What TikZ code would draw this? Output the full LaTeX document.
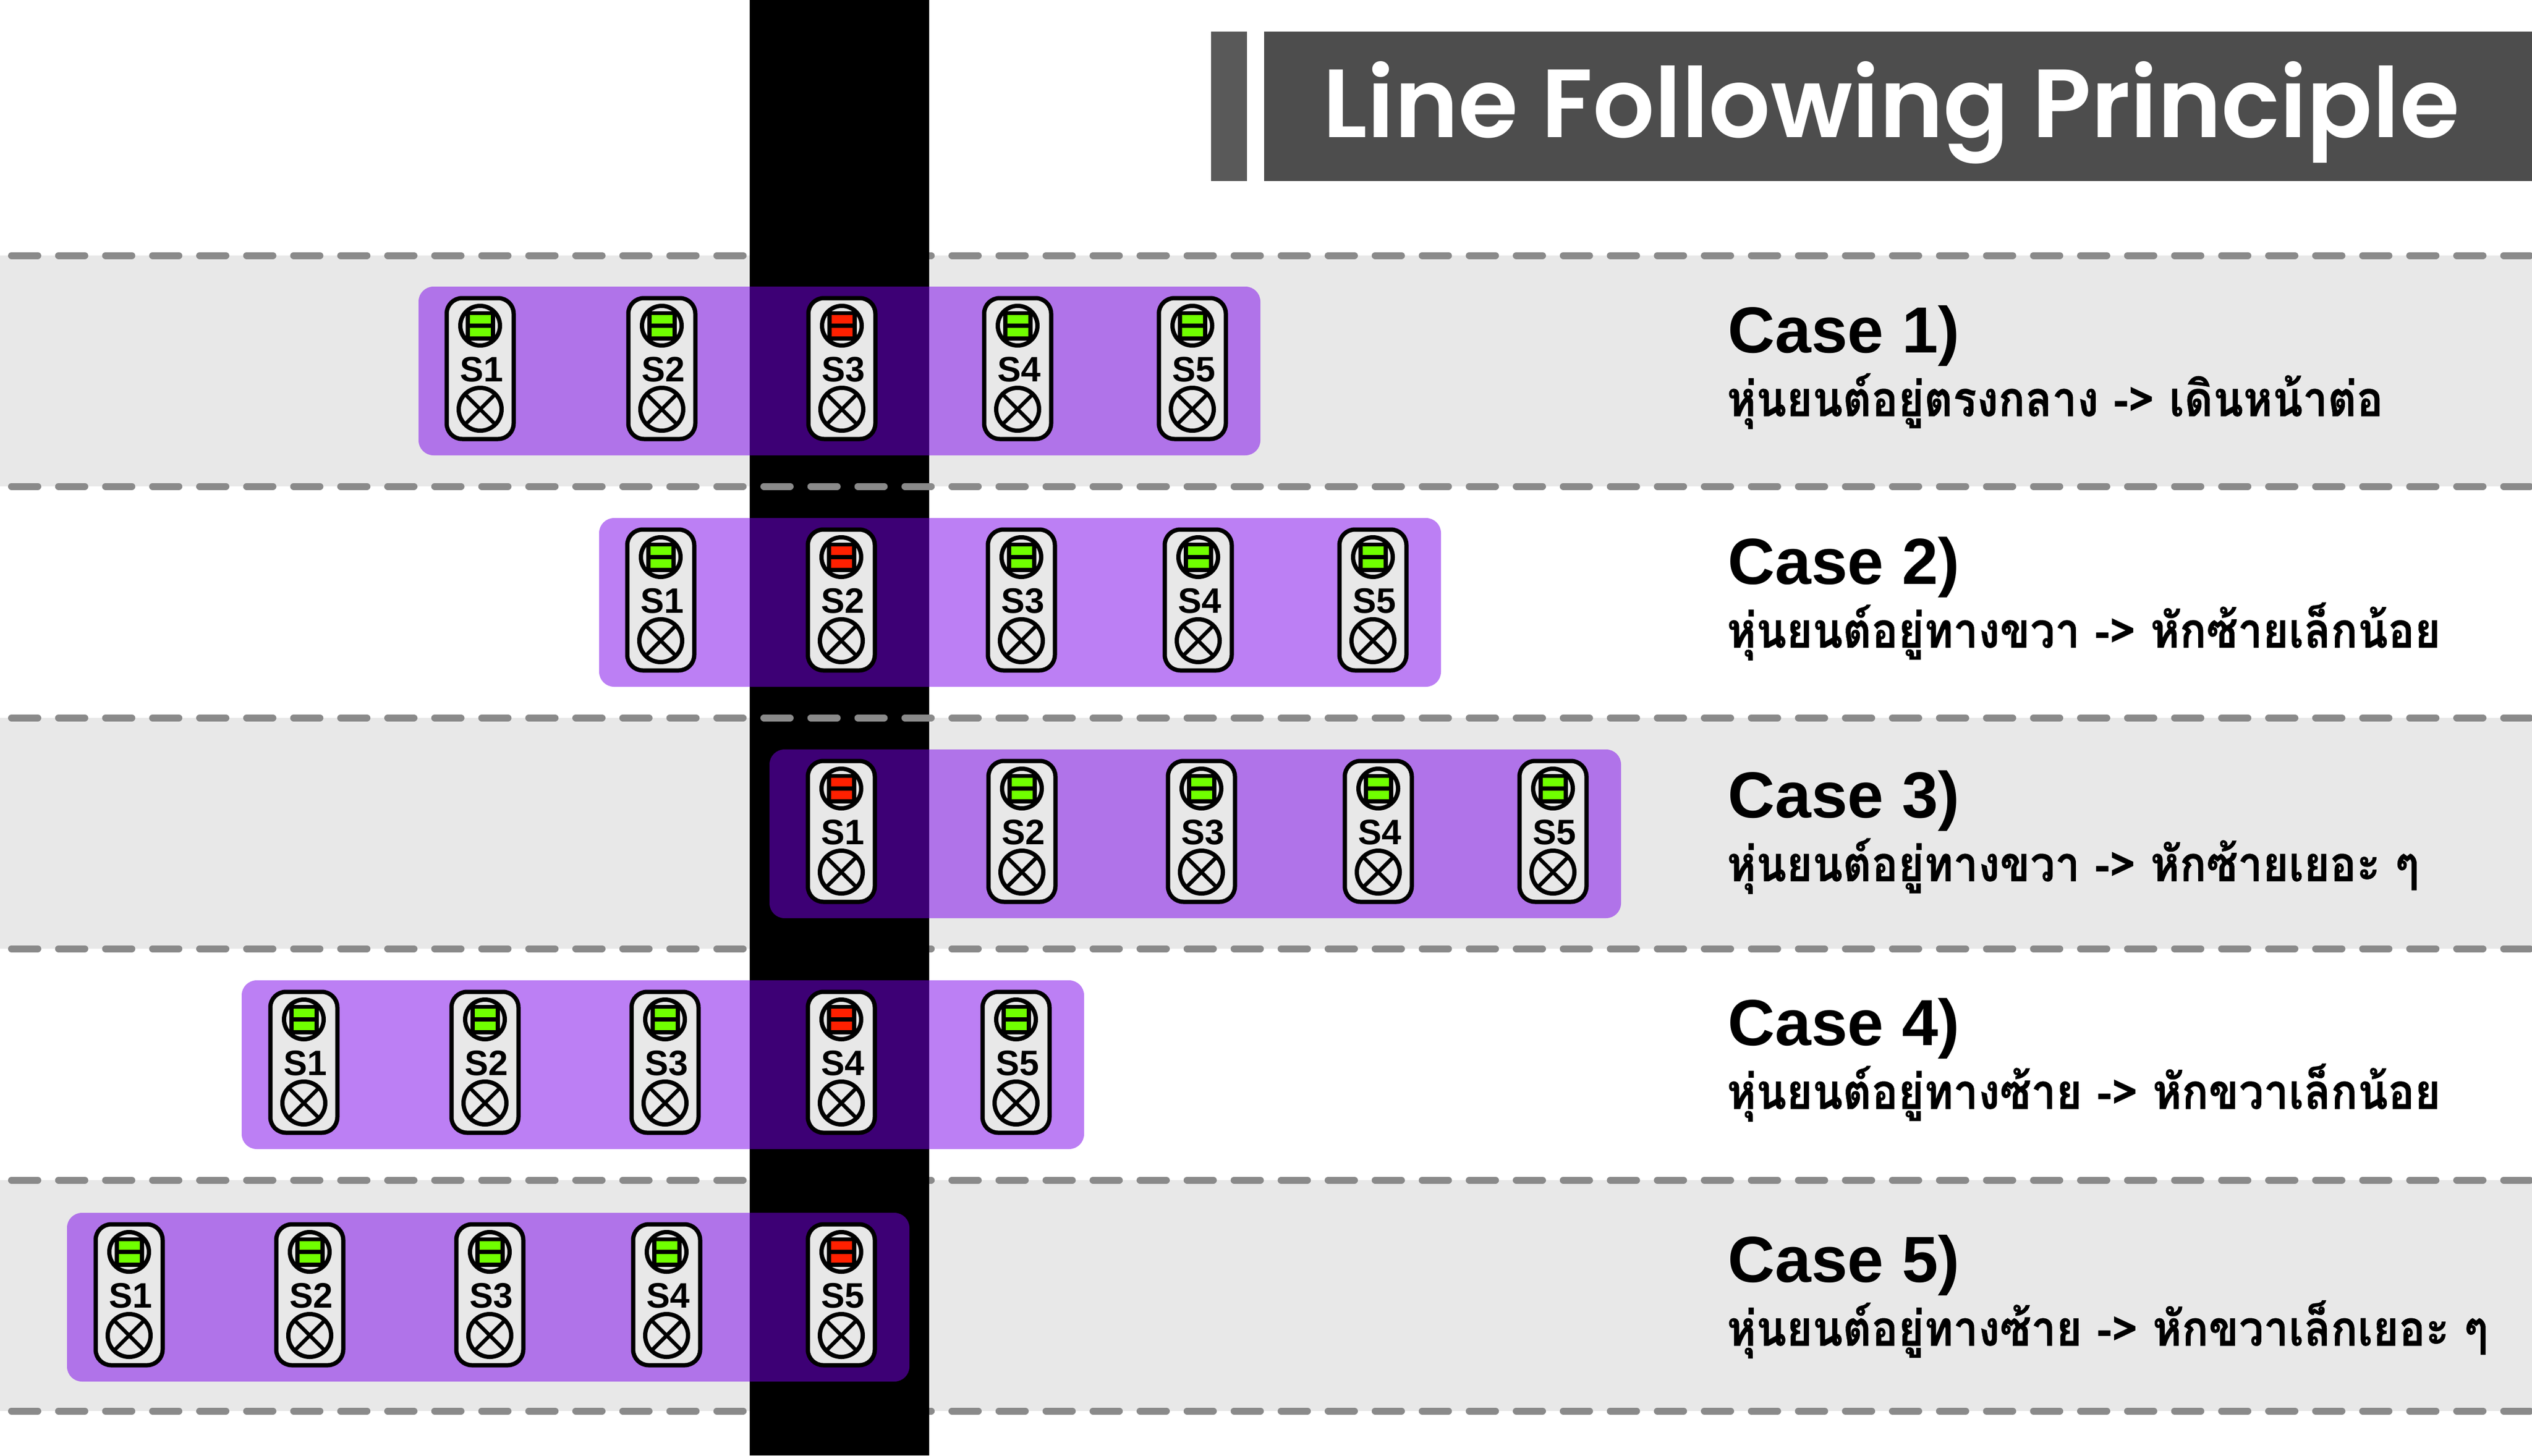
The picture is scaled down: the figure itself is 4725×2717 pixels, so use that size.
\documentclass[tikz,border=0pt]{standalone}
\usepackage{fontspec}
\setmainfont{Liberation Sans}
\newfontfamily\titlefont{Poppins SemiBold}
\newfontfamily\thaifont[Script=Thai,FakeStretch=0.905,FakeBold=0.5]{Loma}
\usetikzlibrary{positioning}

\definecolor{bandgray}{HTML}{E8E8E8}
\definecolor{dashgray}{HTML}{8A8A8A}
\definecolor{titlegray}{HTML}{4D4D4D}
\definecolor{sidegray}{HTML}{595959}
\definecolor{carpurple}{HTML}{7A00EA}
\definecolor{ledgreen}{HTML}{70FF00}
\definecolor{ledred}{HTML}{FF2000}

\begin{document}
\begin{tikzpicture}[x=0.1mm, y=-0.1mm,
    rowline/.style={dashgray, line width=1.3mm, line cap=round, dash pattern=on 4.9mm off 3.875mm, dash phase=6.625mm},
    carbody/.style={fill=carpurple, fill opacity=0.5, rounded corners=2.8mm},
    sensorbox/.style={draw, line width=0.8mm, fill=bandgray, rounded corners=2.9mm, minimum width=12.5mm, minimum height=26.3mm, inner sep=0pt, outer sep=0pt},
    led/.style={circle, draw, line width=0.8mm, fill=bandgray, minimum size=7.4mm, inner sep=0pt, outer sep=0pt},
    ledframe/.style={fill=black, minimum width=5.5mm, minimum height=5.5mm, inner sep=0pt},
    ledbar/.style={minimum width=3.9mm, minimum height=1.6mm, inner sep=0pt},
    bulb/.style={circle, draw, line width=0.8mm, minimum size=8mm, inner sep=0pt, outer sep=0pt},
    sensorlabel/.style={anchor=base, inner sep=0pt, font=\fontsize{18.8}{20}\selectfont\bfseries},
    casetitle/.style={anchor=base west, inner sep=0pt, font=\fontsize{34.6}{36}\selectfont\bfseries},
    casetext/.style={anchor=base west, inner sep=0pt, font=\thaifont\fontsize{26}{28}\selectfont\bfseries}
]
\useasboundingbox (0,0) rectangle (4725,2717);

% Gray bands behind cases 1, 3 and 5
\fill[bandgray] (0,477) rectangle (4725,908);
\fill[bandgray] (0,1340) rectangle (4725,1771);
\fill[bandgray] (0,2203) rectangle (4725,2634);

% Dashed row lines under the track
\foreach \y in {477,1771,2203,2634} {
    \draw[rowline] (0,\y) -- (4725,\y);
}

% Black track
\fill[black] (1399,0) rectangle (1734,2717);

% These two lie over the track
\foreach \y in {908,1340} {
    \draw[rowline] (0,\y) -- (4725,\y);
}

% Title
\fill[sidegray] (2260,59) rectangle (2327,338);
\fill[titlegray] (2359,59) rectangle (4725,338);
\node[anchor=base west, inner sep=0pt, text=white, font=\titlefont\fontsize{51.5}{56}\selectfont] (title) at (2468,257) {Line Following Principle};

% Robot bar with its five sensors, one row per case
\foreach \row/\ymid/\xleft/\xright/\hit/\xlist in {
    1/688/781/2352/3/{896,1235,1571,1899,2225},
    2/1120/1118/2689/2/{1233,1570,1906,2236,2562},
    3/1552/1436/3025/1/{1570,1907,2242,2572,2898},
    4/1983/451/2023/4/{567,905,1241,1570,1896},
    5/2417/125/1697/5/{241,578,914,1244,1570}} {
    \fill[carbody] (\xleft,\ymid-153) rectangle (\xright,\ymid+162);
    \foreach \x [count=\n] in \xlist {
        \ifnum\n=\hit \def\ledcolor{ledred}\else \def\ledcolor{ledgreen}\fi
        \node[sensorbox] (box\row\n) at (\x,\ymid) {};
        \node[led] (led\row\n) at (\x,\ymid-80) {};
        \node[ledframe] (frame\row\n) at (\x,\ymid-80) {};
        \node[ledbar, fill=\ledcolor] (bara\row\n) at (\x,\ymid-92) {};
        \node[ledbar, fill=\ledcolor] (barb\row\n) at (\x,\ymid-68) {};
        \node[sensorlabel] (name\row\n) at (\x+3,\ymid+24) {S\n};
        \node[bulb] (bulb\row\n) at (\x,\ymid+76) {};
        \draw[line width=0.7mm] (bulb\row\n.45) -- (bulb\row\n.225);
        \draw[line width=0.7mm] (bulb\row\n.135) -- (bulb\row\n.315);
    }
}

% Case texts
\node[casetitle] (case1) at (3224,658) {Case 1)};
\node[casetext] (text1) at (3222,777) {หุ่นยนต์อยู่ตรงกลาง -> เดินหน้าต่อ};
\node[casetitle] (case2) at (3224,1090) {Case 2)};
\node[casetext] (text2) at (3222,1209) {หุ่นยนต์อยู่ทางขวา -> หักซ้ายเล็กน้อย};
\node[casetitle] (case3) at (3224,1526) {Case 3)};
\node[casetext] (text3) at (3222,1645) {หุ่นยนต์อยู่ทางขวา -> หักซ้ายเยอะ ๆ};
\node[casetitle] (case4) at (3224,1951) {Case 4)};
\node[casetext] (text4) at (3222,2070) {หุ่นยนต์อยู่ทางซ้าย -> หักขวาเล็กน้อย};
\node[casetitle] (case5) at (3224,2393) {Case 5)};
\node[casetext] (text5) at (3222,2512) {หุ่นยนต์อยู่ทางซ้าย -> หักขวาเล็กเยอะ ๆ};

\end{tikzpicture}
\end{document}
